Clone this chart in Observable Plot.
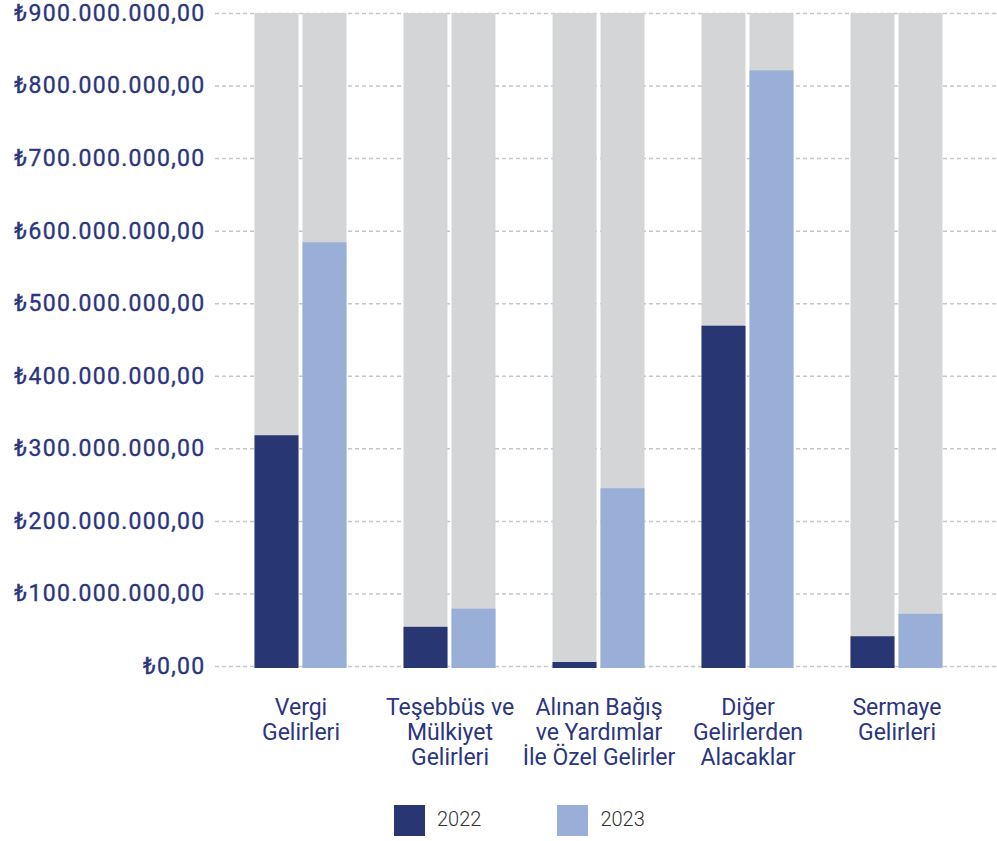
<!DOCTYPE html>
<html>
<head>
<meta charset="utf-8">
<script src="https://cdn.jsdelivr.net/npm/d3@7"></script>
<script src="https://cdn.jsdelivr.net/npm/@observablehq/plot@0.6"></script>
<style>
  html, body { margin: 0; padding: 0; background: #ffffff; }
  body { width: 997px; height: 841px; overflow: hidden; font-family: Roboto, "Noto Sans", sans-serif; }
  #legend { display: flex; align-items: center; margin-top: 15px; padding-left: 394px; height: 31px; }
  .item { display: flex; align-items: center; margin-right: 76px; }
  .swatch { width: 31px; height: 31px; margin-right: 12px; }
  .label { font-family: Roboto, sans-serif; font-weight: 300; font-size: 20px; color: #333333; position: relative; top: -2px; }
</style>
</head>
<body>
<div id="chart"></div>
<div id="legend"></div>
<script>
const categories = [
  "Vergi Gelirleri",
  "Teşebbüs ve Mülkiyet Gelirleri",
  "Alınan Bağış ve Yardımlar İle Özel Gelirler",
  "Diğer Gelirlerden Alacaklar",
  "Sermaye Gelirleri"
];
const tickLabels = [
  "Vergi\nGelirleri",
  "Teşebbüs ve\nMülkiyet\nGelirleri",
  "Alınan Bağış\nve Yardımlar\nİle Özel Gelirler",
  "Diğer\nGelirlerden\nAlacaklar",
  "Sermaye\nGelirleri"
];
const years = ["2022", "2023"];
const values2022 = [318e6, 54e6, 5.5e6, 469e6, 41e6];
const values2023 = [584e6, 79e6, 245e6, 821e6, 72e6];
const axisMax = 900e6;
const yTicks = [0, 100e6, 200e6, 300e6, 400e6, 500e6, 600e6, 700e6, 800e6, 900e6];

const colors = {"2022": "#283673", "2023": "#9aafd7"};
const trackColor = "#d4d5d7";

const tr = d3.formatLocale({decimal: ",", thousands: ".", grouping: [3], currency: ["₺", ""]});
const fmt = tr.format("$,.2f");

const rows = categories.map((c, i) => ({category: c, v2022: values2022[i], v2023: values2023[i], max: axisMax}));

const chart = Plot.plot({
  width: 997,
  height: 790,
  marginLeft: 215,
  marginRight: 0,
  marginTop: 13,
  marginBottom: 124,
  style: {fontFamily: "Roboto, sans-serif", color: "#2b3580", background: "#ffffff"},
  x: {domain: categories, range: [225.5, 970.5], padding: 0},
  y: {domain: [0, axisMax]},
  marks: [
    Plot.ruleY(yTicks, {stroke: "#c6c6c6", strokeWidth: 1.5, strokeDasharray: "4,3"}),
    Plot.barY(rows, {x: "category", y: "max", fill: trackColor, insetLeft: 28.5, insetRight: 76.5, insetBottom: -2}),
    Plot.barY(rows, {x: "category", y: "max", fill: trackColor, insetLeft: 76.5, insetRight: 28.5, insetBottom: -2}),
    Plot.barY(rows, {x: "category", y: "v2022", fill: colors["2022"], insetLeft: 28.5, insetRight: 76.5, insetBottom: -2}),
    Plot.barY(rows, {x: "category", y: "v2023", fill: colors["2023"], insetLeft: 76.5, insetRight: 28.5, insetBottom: -2}),
    Plot.axisY({ticks: yTicks, tickSize: 0, tickPadding: 10, tickFormat: fmt, fontSize: 23, fontWeight: 400, label: null}),
    Plot.axisX({tickSize: 0, tickPadding: 31, tickFormat: (d) => tickLabels[categories.indexOf(d)], fontSize: 23, lineHeight: 1.087, label: null})
  ]
});
d3.select(chart).selectAll("g[aria-label='y-axis tick label'] text").style("letter-spacing", "1.3px").style("stroke", "#2b3580").style("stroke-width", "0.35px");
document.getElementById("chart").appendChild(chart);

const legend = document.getElementById("legend");
years.forEach(y => {
  const item = document.createElement("div");
  item.className = "item";
  const sw = document.createElement("div");
  sw.className = "swatch";
  sw.style.background = colors[y];
  const lb = document.createElement("span");
  lb.className = "label";
  lb.textContent = y;
  item.appendChild(sw);
  item.appendChild(lb);
  legend.appendChild(item);
});
</script>
</body>
</html>
